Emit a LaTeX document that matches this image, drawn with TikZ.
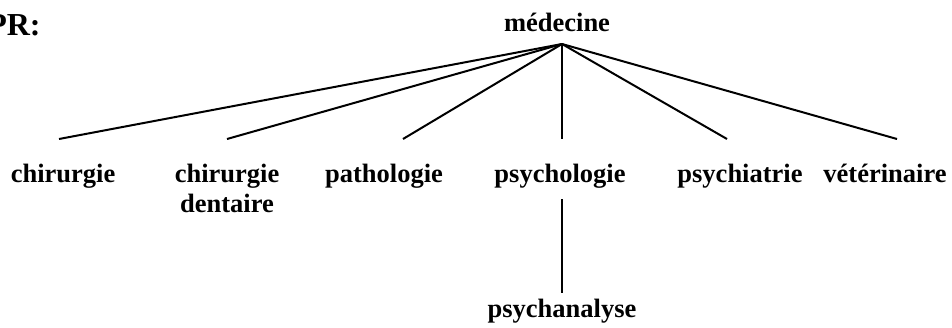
\documentclass[tikz,border=0pt]{standalone}
\usepackage{fontspec}
\setmainfont{Liberation Serif}
\usetikzlibrary{positioning}

\begin{document}
\begin{tikzpicture}[
    x=0.5pt, y=-0.5pt,
    term/.style={font=\fontsize{13.25}{15}\selectfont\bfseries, inner sep=0pt,
                 anchor=base, align=center},
    branch/.style={line width=1pt}
  ]
    \useasboundingbox (0,0) rectangle (952,327);
    \node[term, anchor=base east, font=\fontsize{16}{18}\selectfont\bfseries] (pr) at (41,35) {PR:};
    \node[term] (med) at (557,31) {médecine};
    \coordinate (apex) at (562,44);
    \node[term] (chir) at (63,182) {chirurgie};
    \node[term, anchor=north] (dent) at (227,164) {chirurgie\\dentaire};
    \node[term] (path) at (384,182) {pathologie};
    \node[term] (psyl) at (560,182) {psychologie};
    \node[term] (psyt) at (740,182) {psychiatrie};
    \node[term] (vet) at (885,182) {vétérinaire};
    \node[term] (psya) at (562,317) {psychanalyse};
    % free ends of the fan
    \coordinate (chir-end) at (59,139);
    \coordinate (dent-end) at (227,139);
    \coordinate (path-end) at (403,139);
    \coordinate (psyl-end) at (562,139);
    \coordinate (psyt-end) at (727,139);
    \coordinate (vet-end) at (897,139);
    \foreach \e in {chir,dent,path,psyl,psyt,vet}
      \draw[branch] (apex) -- (\e-end);
    \draw[branch] ([xshift=1pt,yshift=-5.5pt]psyl.south) -- ([yshift=2.5pt]psya.north);
\end{tikzpicture}
\end{document}
